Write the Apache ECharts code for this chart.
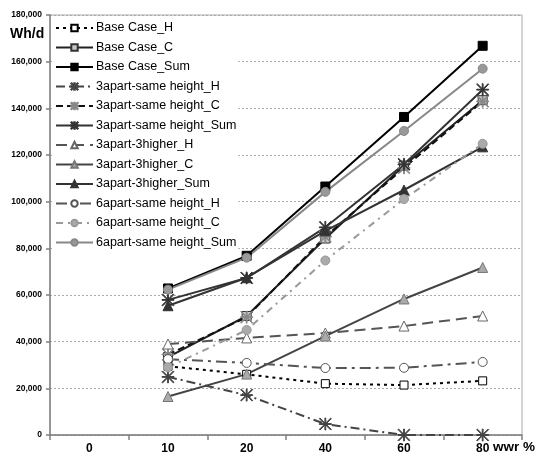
<!DOCTYPE html>
<html><head><meta charset="utf-8">
<script src="https://cdn.jsdelivr.net/npm/echarts@6/dist/echarts.min.js"></script>
<style>html,body{margin:0;padding:0;background:#fff}#c{width:537px;height:459px}</style>
</head><body><div id="c"></div>
<script>
var categories = ['0','10','20','40','60','80'];
var yTicks = [0,20000,40000,60000,80000,100000,120000,140000,160000,180000];
var seriesNames = ['Base Case_H','Base Case_C','Base Case_Sum','3apart-same height_H','3apart-same height_C','3apart-same height_Sum','3apart-3higher_H','3apart-3higher_C','3apart-3higher_Sum','6apart-same height_H','6apart-same height_C','6apart-same height_Sum'];
var baseH     = [null, 29500, 26000, 22000, 21400, 23200];
var baseC     = [null, 33400, 51000, 84200, 115500, 143500];
var baseSum   = [null, 62800, 76800, 106500, 136300, 166800];
var a3sameH   = [null, 24900, 17100, 4700, 0, 0];
var a3sameC   = [null, 34500, 50500, 85000, 114500, 143000];
var a3sameSum = [null, 57900, 67300, 89000, 116000, 148000];
var a3highH   = [null, 39000, 41600, 43700, 46700, 51000];
var a3highC   = [null, 16500, 26100, 42400, 58300, 71800];
var a3highSum = [null, 55400, 67400, 87500, 105000, 123500];
var a6H       = [null, 32500, 30900, 28700, 28800, 31300];
var a6C       = [null, 29000, 45000, 74800, 101100, 124800];
var a6Sum     = [null, 62300, 76000, 104200, 130300, 157000];

var STAR = 'path://M9.3,0 L10.7,0 L10.7,20 L9.3,20 Z M0,9.3 L20,9.3 L20,10.7 L0,10.7 Z M1,0 L20,19 L19,20 L0,1 Z M19,0 L20,1 L1,20 L0,19 Z';

function mk(name, data, lineColor, lineType, lineWidth, symbol, size, fill, border) {
  return {
    name: name, type: 'line', data: data, symbol: symbol, symbolSize: size,
    connectNulls: false,
    lineStyle: {color: lineColor, type: lineType, width: lineWidth},
    itemStyle: {color: fill, borderColor: border, borderWidth: 1},
    emphasis: {disabled: true}
  };
}

var series = [
  mk(seriesNames[0], baseH, '#000', [3,4], 2, 'rect', 8, '#fff', '#000'),
  mk(seriesNames[1], baseC, '#222', 'solid', 2, 'rect', 9, '#c8c8c8', '#333'),
  mk(seriesNames[2], baseSum, '#000', 'solid', 2, 'rect', 9, '#000', '#000'),
  mk(seriesNames[3], a3sameH, '#444', [9,4,2,4], 2, STAR, 12, '#444', '#444'),
  mk(seriesNames[4], a3sameC, '#111', [7,4], 2, STAR, 12, '#888', '#888'),
  mk(seriesNames[5], a3sameSum, '#333', 'solid', 2, STAR, 12, '#333', '#333'),
  mk(seriesNames[6], a3highH, '#555', [11,6], 2, 'triangle', 10, '#fff', '#666'),
  mk(seriesNames[7], a3highC, '#444', 'solid', 2, 'triangle', 10, '#aaa', '#777'),
  mk(seriesNames[8], a3highSum, '#333', 'solid', 2, 'triangle', 10, '#333', '#333'),
  mk(seriesNames[9], a6H, '#555', [11,5,3,5], 2, 'circle', 9, '#fff', '#555'),
  mk(seriesNames[10], a6C, '#999', [7,5,2,5], 2, 'circle', 9, '#aaa', '#999'),
  mk(seriesNames[11], a6Sum, '#888', 'solid', 2, 'circle', 9, '#999', '#888')
];

var chart = echarts.init(document.getElementById('c'), null, {renderer: 'canvas'});
chart.setOption({
  animation: false,
  backgroundColor: '#fff',
  grid: {left: 50, right: 15, top: 15, bottom: 24, show: true, borderColor: '#aaa', borderWidth: 1, backgroundColor: 'transparent'},
  legend: {
    orient: 'vertical', left: 52, top: 17, data: seriesNames,
    backgroundColor: '#fff', padding: [4, 2, 6, 3],
    itemWidth: 37, itemHeight: 8, itemGap: 5.5,
    selectedMode: false,
    textStyle: {fontFamily: 'Liberation Sans, Arial', fontSize: 12.5, color: '#000', lineHeight: 14, padding: [0,0,0,-2]}
  },
  xAxis: {
    type: 'category', data: categories, boundaryGap: true,
    axisLine: {lineStyle: {color: '#808080', width: 1.5}},
    axisTick: {show: true, length: 5, inside: false, lineStyle: {color: '#808080', width: 1.5}},
    axisLabel: {fontFamily: 'Liberation Sans, Arial', fontWeight: 'bold', fontSize: 12, color: '#000', margin: 8},
    splitLine: {show: false}
  },
  yAxis: {
    type: 'value', min: 0, max: 180000, interval: 20000,
    axisLine: {show: true, lineStyle: {color: '#808080', width: 1.5}},
    axisTick: {show: true, length: 4, lineStyle: {color: '#808080', width: 1.5}},
    axisLabel: {fontFamily: 'Liberation Sans, Arial', fontWeight: 'bold', fontSize: 8.5, color: '#000', margin: 8},
    splitLine: {show: true, lineStyle: {color: '#aaa', type: [2,2], width: 1}}
  },
  graphic: [
    {type: 'text', left: 10, top: 27, style: {text: 'Wh/d', fontFamily: 'Liberation Sans, Arial', fontWeight: 'bold', fontSize: 14, fill: '#000'}},
    {type: 'text', left: 493, top: 440, style: {text: 'wwr %', fontFamily: 'Liberation Sans, Arial', fontWeight: 'bold', fontSize: 13.5, fill: '#000'}}
  ],
  series: series
});
</script>
</body></html>
